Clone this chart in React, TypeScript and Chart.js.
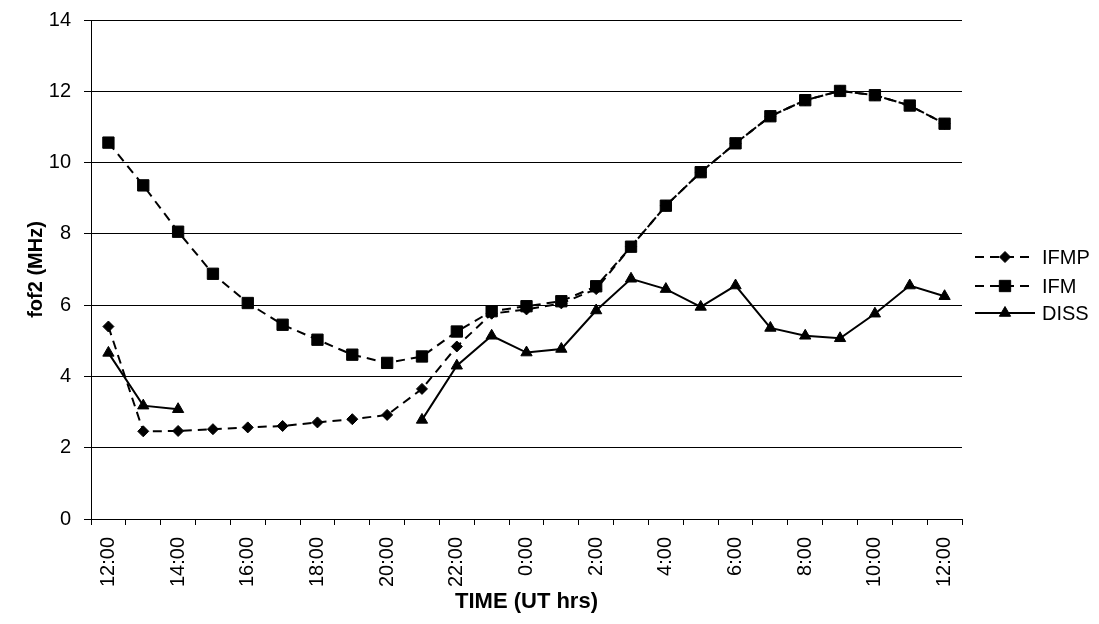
import { useEffect, useRef } from 'react';
import { Chart, registerables } from 'chart.js';
import { drawPoint } from 'chart.js/helpers';

Chart.register(...registerables);

const hours = [
  '12:00', '13:00', '14:00', '15:00', '16:00', '17:00', '18:00', '19:00',
  '20:00', '21:00', '22:00', '23:00', '0:00', '1:00', '2:00', '3:00',
  '4:00', '5:00', '6:00', '7:00', '8:00', '9:00', '10:00', '11:00', '12:00',
];

const ifmp = [
  5.4, 2.46, 2.47, 2.52, 2.57, 2.61, 2.71, 2.8, 2.92, 3.65, 4.84, 5.76, 5.88,
  6.05, 6.45, 7.64, 8.79, 9.73, 10.54, 11.3, 11.75, 12.01, 11.89, 11.6, 11.09,
];

const ifm = [
  10.56, 9.36, 8.06, 6.88, 6.06, 5.45, 5.03, 4.61, 4.38, 4.56, 5.26, 5.83, 5.97,
  6.11, 6.53, 7.64, 8.79, 9.73, 10.54, 11.3, 11.75, 12.01, 11.89, 11.6, 11.09,
];

const diss: (number | null)[] = [
  4.66, 3.18, 3.08, null, null, null, null, null, null, 2.78, 4.3, 5.14, 4.67,
  4.77, 5.85, 6.74, 6.45, 5.95, 6.55, 5.36, 5.14, 5.07, 5.76, 6.55, 6.25,
];

const seriesNames = ['IFMP', 'IFM', 'DISS'];
const yMin = 0;
const yMax = 14;
const yStep = 2;

const FONT = '"Liberation Sans", Arial, sans-serif';

const sideLegend = {
  id: 'sideLegend',
  afterDraw(chart: any) {
    const { ctx, chartArea } = chart;
    const x0 = chartArea.right + 13;
    const lineLen = 60;
    const rows = [249, 278, 305];
    ctx.save();
    chart.data.datasets.forEach((ds: any, i: number) => {
      const y = rows[i];
      ctx.strokeStyle = '#000';
      ctx.fillStyle = '#000';
      ctx.lineWidth = ds.borderWidth;
      ctx.setLineDash(ds.borderDash || []);
      ctx.beginPath();
      ctx.moveTo(x0, y);
      ctx.lineTo(x0 + lineLen, y);
      ctx.stroke();
      ctx.setLineDash([]);
      ctx.lineWidth = 1;
      drawPoint(ctx, { pointStyle: ds.pointStyle, radius: ds.pointRadius, rotation: 0, borderWidth: 1 }, x0 + lineLen / 2, y);
      ctx.font = `20px ${FONT}`;
      ctx.textAlign = 'left';
      ctx.textBaseline = 'middle';
      ctx.fillText(ds.label, x0 + lineLen + 7, y + 1);
    });
    ctx.restore();
  },
};

export default function App() {
  const ref = useRef<HTMLCanvasElement>(null);

  useEffect(() => {
    if (!ref.current) return;
    const common = {
      borderColor: '#000',
      backgroundColor: '#000',
      pointBackgroundColor: '#000',
      pointBorderColor: '#000',
      pointBorderWidth: 1,
      borderWidth: 2,
      tension: 0,
      fill: false,
      spanGaps: false,
    };
    const chart = new Chart(ref.current, {
      type: 'line',
      data: {
        labels: hours,
        datasets: [
          { ...common, label: seriesNames[0], data: ifmp, borderDash: [9, 6], pointStyle: 'rectRot', pointRadius: 5.5 },
          { ...common, label: seriesNames[1], data: ifm, borderDash: [9, 6], pointStyle: 'rect', pointRadius: 8 },
          { ...common, label: seriesNames[2], data: diss, borderDash: [], pointStyle: 'triangle', pointRadius: 6.5 },
        ],
      },
      options: {
        animation: false,
        responsive: true,
        maintainAspectRatio: false,
        layout: { padding: { left: 0, right: 129, top: 12, bottom: 0 } },
        plugins: {
          legend: { display: false },
          tooltip: { enabled: false },
        },
        scales: {
          x: {
            type: 'category',
            offset: true,
            grid: {
              offset: true,
              drawOnChartArea: false,
              drawTicks: true,
              tickLength: 6,
              color: '#000',
            },
            border: { display: true, color: '#000', width: 1 },
            ticks: {
              autoSkip: false,
              maxRotation: 90,
              minRotation: 90,
              padding: 12,
              color: '#000',
              font: { family: FONT, size: 20 },
              callback: (_v: any, i: number) => (i % 2 === 0 ? hours[i] : ''),
            },
            title: {
              display: true,
              text: 'TIME (UT hrs)',
              color: '#000',
              font: { family: FONT, size: 22, weight: 'bold' },
              padding: { top: 3, bottom: 1 },
            },
            afterFit: (scale: any) => {
              scale.height = 97;
            },
          },
          y: {
            min: yMin,
            max: yMax,
            ticks: {
              stepSize: yStep,
              padding: 13,
              color: '#000',
              font: { family: FONT, size: 20 },
            },
            grid: { color: '#000', lineWidth: 1, tickLength: 7 },
            border: { display: true, color: '#000', width: 1 },
            title: {
              display: true,
              text: 'fof2 (MHz)',
              color: '#000',
              font: { family: FONT, size: 20, weight: 'bold' },
              padding: { top: 16, bottom: 4 },
            },
            afterFit: (scale: any) => {
              scale.width = 83;
              scale.paddingTop = 0;
              scale.paddingBottom = 0;
            },
          },
        },
      },
      plugins: [sideLegend],
    });
    return () => chart.destroy();
  }, []);

  return (
    <div style={{ width: 1083, height: 608, position: 'relative' }}>
      <canvas ref={ref} />
    </div>
  );
}
